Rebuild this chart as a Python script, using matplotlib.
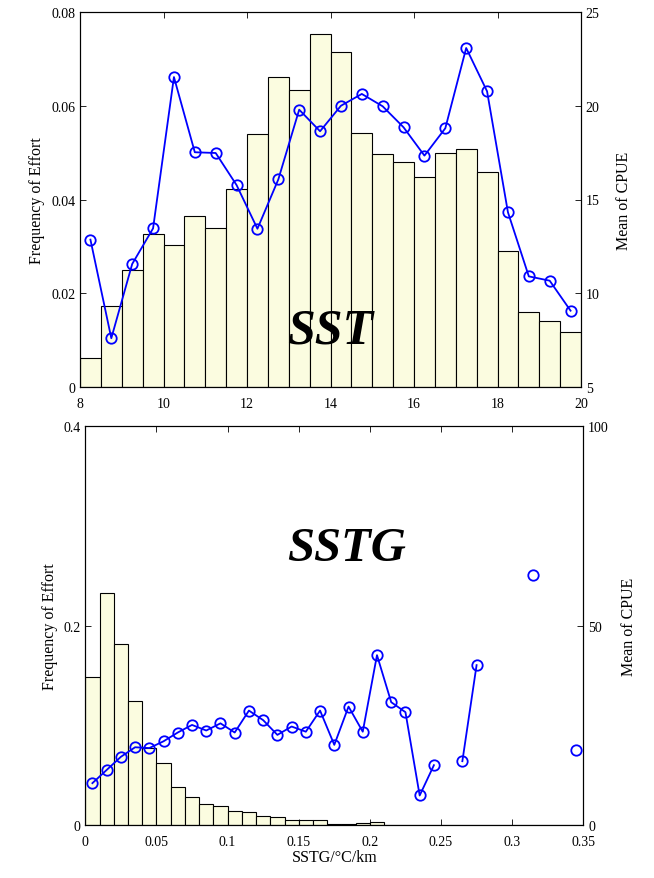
import numpy as np
import matplotlib
matplotlib.use("Agg")
import matplotlib.pyplot as plt

plt.rcParams['font.family'] = ['Liberation Serif', 'DejaVu Serif']

# -----------------------------
# SST: effort histogram (0.5 degC bins) and mean CPUE per bin
# -----------------------------
sst_edges = np.arange(8.0, 20.01, 0.5)
sst_freq = [0.0061, 0.0172, 0.0250, 0.0326, 0.0304, 0.0364, 0.0339, 0.0422,
            0.0540, 0.0661, 0.0634, 0.0753, 0.0715, 0.0541, 0.0497, 0.0479,
            0.0449, 0.0499, 0.0507, 0.0458, 0.0291, 0.0159, 0.0140, 0.0118]
sst_cpue = [12.86, 7.6, 11.56, 13.46, 21.53, 17.52, 17.48, 15.77,
            13.44, 16.07, 19.79, 18.64, 20.0, 20.63, 19.97, 18.85,
            17.34, 18.8, 23.08, 20.77, 14.32, 10.9, 10.67, 9.07]

# -----------------------------
# SSTG: effort histogram (0.01 degC/km bins) and mean CPUE per bin
# -----------------------------
sstg_edges = np.arange(0.0, 0.3501, 0.01)
sstg_freq = [0.1488, 0.2328, 0.1813, 0.1241, 0.0775, 0.0622, 0.0378, 0.0284,
             0.0207, 0.0187, 0.0137, 0.0127, 0.0087, 0.0077, 0.0050, 0.0055,
             0.0050, 0.0013, 0.0013, 0.0020, 0.0030, 0, 0, 0,
             0, 0, 0, 0, 0, 0, 0, 0, 0, 0, 0]
sstg_cpue = [10.5, 13.8, 17.1, 19.5, 19.3, 21.0, 23.2, 25.1,
             23.7, 25.5, 23.2, 28.7, 26.3, 22.6, 24.7, 23.4,
             28.7, 20.1, 29.7, 23.4, 42.6, 30.8, 28.3, 7.4,
             15.0, np.nan, 16.0, 40.1, np.nan, np.nan, np.nan, 62.8,
             np.nan, np.nan, 18.7]

BAR_FACE = "#fbfce0"
TICK_FS = 10
LABEL_FS = 11.5


def draw_panel(rect, edges, freq, cpue, xlim, xticks, ylim_l, yticks_l,
               ylim_r, yticks_r, left_fmt, xlabel=None, rpad=8):
    ax = fig.add_axes(rect)
    centers = (edges[:-1] + edges[1:]) / 2
    width = edges[1] - edges[0]
    ax.bar(centers, freq, width=width, color=BAR_FACE, edgecolor="black",
           linewidth=0.8, zorder=1)
    ax.set_xlim(*xlim)
    ax.set_ylim(*ylim_l)
    ax.set_xticks(xticks)
    ax.set_xticklabels([("%g" % t) for t in xticks])
    ax.set_yticks(yticks_l)
    ax.set_yticklabels([left_fmt(t) for t in yticks_l])
    ax.tick_params(direction="in", top=True, right=False, labelsize=TICK_FS,
                   length=4, width=0.6)
    ax.tick_params(axis="x", pad=7)
    ax.set_ylabel("Frequency of Effort", fontsize=LABEL_FS)
    if xlabel:
        ax.set_xlabel(xlabel, fontsize=LABEL_FS, labelpad=1)

    ax2 = ax.twinx()
    ax2.plot(centers, cpue, color="blue", marker="o", markersize=7.5,
             markerfacecolor="none", markeredgewidth=1.3, linewidth=1.3,
             clip_on=False, zorder=3)
    ax2.set_ylim(*ylim_r)
    ax2.set_yticks(yticks_r)
    ax2.set_yticklabels([("%g" % t) for t in yticks_r])
    ax2.tick_params(direction="in", labelsize=TICK_FS, length=4, width=0.6)
    ax2.set_ylabel("Mean of CPUE", fontsize=LABEL_FS, labelpad=rpad)
    for a in (ax, ax2):
        for s in a.spines.values():
            s.set_linewidth(0.8)
    return ax, ax2


fig = plt.figure(figsize=(6.54, 8.79), dpi=100)

top, top2 = draw_panel(
    [80 / 654, 1 - 388 / 879, 501 / 654, 375 / 879],
    sst_edges, sst_freq, sst_cpue,
    (8, 20), [8, 10, 12, 14, 16, 18, 20],
    (0, 0.08), [0, 0.02, 0.04, 0.06, 0.08],
    (5, 25), [5, 10, 15, 20, 25],
    lambda t: "0" if t == 0 else "%.2f" % t,
    rpad=12)
top2.text(0.5, 0.15, "SST", transform=top2.transAxes, ha="center",
          va="center", fontsize=36, fontweight="bold", fontstyle="italic")

bot, bot2 = draw_panel(
    [85.3 / 654, 1 - 826 / 879, 498 / 654, 398.7 / 879],
    sstg_edges, sstg_freq, sstg_cpue,
    (0, 0.35), [0, 0.05, 0.1, 0.15, 0.2, 0.25, 0.3, 0.35],
    (0, 0.4), [0, 0.2, 0.4],
    (0, 100), [0, 50, 100],
    lambda t: "%g" % t,
    xlabel="SSTG/\u00b0C/km", rpad=9)
bot2.text(0.525, 0.695, "SSTG", transform=bot2.transAxes, ha="center",
          va="center", fontsize=35, fontweight="bold", fontstyle="italic")

fig.savefig("out.png", dpi=100)
